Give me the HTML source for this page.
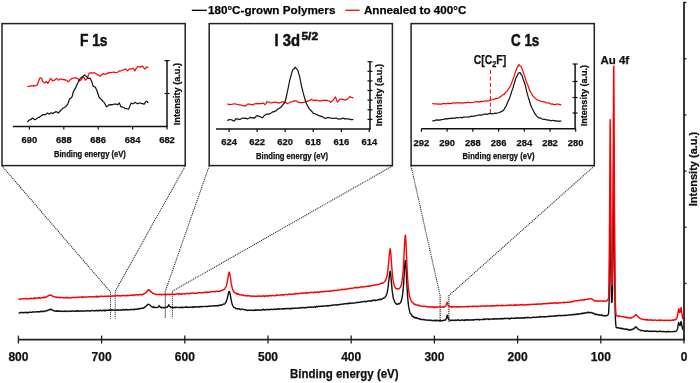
<!DOCTYPE html>
<html><head><meta charset="utf-8"><style>
html,body{margin:0;padding:0;background:#fff;width:700px;height:383px;overflow:hidden;font-family:"Liberation Sans",sans-serif;}
svg{display:block;will-change:transform;}
</style></head><body>
<svg width="700" height="383" viewBox="0 0 700 383"><rect width="700" height="383" fill="#fff"/><line x1="191.8" y1="10.3" x2="206.8" y2="10.3" stroke="#000" stroke-width="1.3"/><text x="207.9" y="14.2" font-family="Liberation Sans" font-weight="bold" stroke="#111" stroke-width="0.25" font-size="11.6" textLength="127.5" lengthAdjust="spacingAndGlyphs" fill="#000">180°C-grown Polymers</text><line x1="345.3" y1="10.3" x2="359.6" y2="10.3" stroke="#f00" stroke-width="1.3"/><text x="363.9" y="14.2" font-family="Liberation Sans" font-weight="bold" stroke="#111" stroke-width="0.25" font-size="11.6" textLength="102.4" lengthAdjust="spacingAndGlyphs" fill="#000">Annealed to 400°C</text><rect x="2.0" y="23.6" width="183.2" height="142.0" fill="none" stroke="#222" stroke-width="1.5"/><rect x="209.2" y="23.6" width="183.2" height="142.0" fill="none" stroke="#222" stroke-width="1.5"/><rect x="411.1" y="23.6" width="183.2" height="142.0" fill="none" stroke="#222" stroke-width="1.5"/><polyline points="2,166 110.5,292 110.5,318.6" stroke="#222" stroke-width="1.05" stroke-dasharray="1.1,0.9" fill="none"/><polyline points="185.2,166 115.2,291.3 115.2,318.6" stroke="#222" stroke-width="1.05" stroke-dasharray="1.1,0.9" fill="none"/><polyline points="209.2,166 165.3,291.2 165.3,318.6" stroke="#222" stroke-width="1.05" stroke-dasharray="1.1,0.9" fill="none"/><polyline points="392.3,166 172.4,291.2 172.4,318.6" stroke="#222" stroke-width="1.05" stroke-dasharray="1.1,0.9" fill="none"/><polyline points="411.1,166 440.1,295.6 440.1,322.2" stroke="#222" stroke-width="1.05" stroke-dasharray="1.1,0.9" fill="none"/><polyline points="594.3,166 448.9,295.6 448.9,322.2" stroke="#222" stroke-width="1.05" stroke-dasharray="1.1,0.9" fill="none"/><polyline points="18.6,313.1 19.1,313.1 19.6,312.8 20.1,312.6 20.6,312.5 21.1,312.7 21.6,312.5 22.1,312.4 22.6,312.7 23.1,312.6 23.6,312.7 24.1,312.4 24.6,312.5 25.1,312.5 25.6,312.2 26.1,312.6 26.6,312.5 27.1,312.9 27.6,312.4 28.1,312.3 28.6,312.5 29.1,312.3 29.6,312.4 30.1,312.1 30.6,312.2 31.1,312.4 31.6,312.3 32.1,312.1 32.6,311.8 33.1,312.1 33.6,312.0 34.1,312.1 34.6,312.0 35.1,312.1 35.6,311.9 36.1,311.9 36.6,311.9 37.1,311.6 37.6,311.7 38.1,311.6 38.6,312.1 39.1,311.6 39.6,311.7 40.1,311.7 40.6,311.5 41.1,311.2 41.6,311.7 42.1,311.4 42.6,311.6 43.1,311.1 43.6,311.3 44.1,311.5 44.6,311.5 45.1,310.9 45.6,310.8 46.1,310.9 46.6,311.0 47.1,310.7 47.6,310.5 48.1,310.0 48.6,310.1 49.1,310.0 49.6,309.5 50.1,309.2 50.3,309.3 50.6,309.7 51.1,309.3 51.6,309.8 52.1,309.8 52.6,310.2 53.1,310.4 53.6,310.6 54.1,311.0 54.6,310.9 55.1,311.2 55.6,311.0 56.1,311.0 56.6,311.2 57.1,310.6 57.6,311.2 58.1,311.3 58.6,311.0 59.1,311.3 59.6,311.2 60.1,310.8 60.6,311.2 61.1,311.1 61.6,311.2 62.1,311.3 62.6,311.5 63.1,311.3 63.6,311.3 64.1,311.4 64.6,310.9 65.1,311.5 65.6,311.1 66.1,311.4 66.6,311.1 67.1,311.1 67.6,311.2 68.1,311.6 68.6,311.4 69.1,311.1 69.6,311.2 70.1,311.0 70.6,311.2 71.1,311.1 71.6,311.4 72.1,310.9 72.6,311.1 73.1,311.0 73.6,311.0 74.1,311.3 74.6,311.2 75.1,311.2 75.6,311.3 76.1,311.3 76.6,310.8 77.1,311.2 77.6,310.7 78.1,311.0 78.6,311.4 79.1,311.0 79.6,310.9 80.1,311.0 80.6,311.0 81.1,311.0 81.6,310.8 82.1,311.2 82.6,311.1 83.1,310.9 83.6,311.0 84.1,311.0 84.6,311.1 85.1,310.9 85.6,311.0 86.1,310.8 86.6,310.6 87.1,310.7 87.6,311.0 88.1,311.0 88.6,310.8 89.1,310.6 89.6,310.8 90.1,311.1 90.6,311.0 91.1,310.6 91.6,310.7 92.1,310.4 92.6,310.4 93.1,310.7 93.6,310.6 94.1,310.8 94.6,310.9 95.1,310.8 95.6,310.8 96.1,310.5 96.6,310.3 97.1,310.6 97.6,311.1 98.1,310.6 98.6,310.3 99.1,310.5 99.6,310.7 100.1,310.2 100.6,310.6 101.1,310.3 101.6,310.7 102.1,310.6 102.6,310.4 103.1,310.8 103.6,310.3 104.1,310.2 104.6,310.7 105.1,310.1 105.6,310.7 106.1,310.3 106.6,310.1 107.1,310.3 107.6,310.3 108.1,310.3 108.6,310.2 109.1,310.4 109.6,309.7 110.1,310.1 110.6,310.1 111.1,310.5 111.6,309.7 112.1,310.1 112.6,309.9 113.1,310.0 113.6,310.2 114.1,310.2 114.6,310.4 115.1,309.9 115.6,310.1 116.1,310.3 116.6,310.2 117.1,310.0 117.6,310.2 118.1,309.8 118.6,310.3 119.1,310.0 119.6,309.9 120.1,310.0 120.6,310.1 121.1,310.3 121.6,309.9 122.1,309.8 122.6,310.0 123.1,309.7 123.6,309.5 124.1,310.0 124.6,309.8 125.1,310.1 125.6,309.6 126.1,309.2 126.6,309.9 127.1,309.8 127.6,310.1 128.1,309.9 128.6,309.8 129.1,309.9 129.6,309.7 130.1,309.7 130.6,309.4 131.1,309.7 131.6,309.4 132.1,309.4 132.6,309.6 133.1,309.6 133.6,309.2 134.1,309.7 134.6,309.2 135.1,309.4 135.6,309.4 136.1,309.2 136.6,309.1 137.1,309.4 137.6,309.2 138.1,309.0 138.6,308.5 139.1,308.6 139.6,309.0 140.1,308.7 140.6,308.4 141.1,308.4 141.6,308.3 142.1,308.4 142.6,308.2 143.1,308.2 143.6,307.6 144.1,307.8 144.6,307.2 145.1,306.9 145.6,306.9 146.1,306.0 146.6,305.4 147.1,304.9 147.6,304.4 148.1,304.5 148.3,304.4 148.6,304.3 149.1,304.4 149.6,305.0 150.1,305.3 150.6,305.8 151.1,306.2 151.6,306.5 152.1,307.0 152.6,307.3 153.1,307.3 153.6,306.8 154.1,307.6 154.6,307.4 155.1,307.2 155.6,307.3 156.1,307.6 156.6,307.6 157.1,307.5 157.6,307.3 158.1,307.0 158.6,306.5 159.1,305.6 159.6,306.2 160.1,306.9 160.6,307.3 161.1,307.5 161.6,307.9 162.1,307.2 162.6,307.6 163.1,307.5 163.6,307.5 164.1,307.8 164.6,307.7 165.1,307.4 165.6,307.3 166.1,307.1 166.6,307.3 167.1,307.4 167.6,306.8 168.1,306.2 168.6,305.0 168.8,304.7 169.1,305.3 169.6,306.2 170.1,306.7 170.6,306.9 171.1,307.5 171.6,307.3 172.1,307.3 172.6,307.6 173.1,307.3 173.6,307.8 174.1,307.6 174.6,307.3 175.1,307.3 175.6,307.6 176.1,307.2 176.6,307.3 177.1,307.4 177.6,307.4 178.1,307.4 178.6,307.5 179.1,307.3 179.6,307.4 180.1,307.6 180.6,307.5 181.1,307.3 181.6,307.7 182.1,307.0 182.6,307.4 183.1,307.5 183.6,307.5 184.1,307.3 184.6,307.2 185.1,307.4 185.6,307.3 186.1,307.4 186.6,306.7 187.1,307.4 187.6,307.1 188.1,307.5 188.6,307.4 189.1,307.4 189.6,307.2 190.1,307.3 190.6,307.1 191.1,307.2 191.6,307.1 192.1,307.0 192.6,307.5 193.1,307.2 193.6,306.7 194.1,307.2 194.6,306.7 195.1,307.0 195.6,306.9 196.1,306.8 196.6,307.0 197.1,306.8 197.6,306.6 198.1,306.9 198.6,306.9 199.1,307.2 199.6,306.7 200.1,306.5 200.6,306.7 201.1,306.8 201.6,306.5 202.1,306.5 202.6,306.7 203.1,306.6 203.6,306.6 204.1,306.4 204.6,306.4 205.1,306.4 205.6,306.5 206.1,306.4 206.6,306.5 207.1,306.5 207.6,306.5 208.1,306.4 208.6,306.1 209.1,306.1 209.6,306.4 210.1,306.2 210.6,306.2 211.1,305.9 211.6,306.1 212.1,306.0 212.6,305.9 213.1,305.9 213.6,305.7 214.1,306.0 214.6,306.1 215.1,305.7 215.6,305.8 216.1,305.5 216.6,305.8 217.1,306.0 217.6,305.4 218.1,305.5 218.6,305.8 219.1,305.5 219.6,305.4 220.1,304.8 220.6,305.1 221.1,305.2 221.6,305.2 222.1,304.9 222.6,304.6 223.1,304.4 223.6,304.0 224.1,303.9 224.6,304.0 225.1,303.3 225.6,302.5 226.1,302.1 226.6,300.3 227.1,299.3 227.6,297.0 228.1,294.7 228.6,292.6 229.1,291.3 229.3,291.5 229.6,291.8 230.1,293.9 230.6,296.7 231.1,299.3 231.6,301.8 232.1,303.9 232.6,305.2 233.1,306.3 233.6,307.3 234.1,307.4 234.6,307.8 235.1,307.8 235.6,308.2 236.1,308.9 236.6,308.7 237.1,308.7 237.6,309.0 238.1,308.6 238.6,308.9 239.1,308.9 239.6,308.8 240.1,309.5 240.6,309.6 241.1,309.3 241.6,309.4 242.1,309.0 242.6,309.1 243.0,309.2 243.1,309.3 243.6,309.6 244.1,309.6 244.6,309.7 245.1,309.7 245.6,309.8 246.1,310.1 246.6,310.2 247.1,310.1 247.6,310.5 248.1,310.3 248.6,310.2 249.1,310.2 249.6,310.3 250.1,310.2 250.6,310.1 251.1,310.4 251.6,310.2 252.1,310.2 252.6,310.5 253.1,310.2 253.6,310.5 254.1,310.2 254.6,310.5 255.1,310.3 255.6,309.8 256.1,310.4 256.6,310.1 257.1,309.7 257.6,310.1 258.1,310.1 258.6,309.8 259.1,309.9 259.6,310.1 260.1,310.3 260.6,310.2 261.1,310.2 261.6,310.1 262.1,309.4 262.6,309.7 263.1,309.9 263.6,309.3 264.1,310.0 264.6,310.0 265.1,309.6 265.6,309.7 266.1,309.5 266.6,309.7 267.1,309.7 267.6,309.7 268.1,309.4 268.6,309.7 269.1,309.5 269.6,309.8 270.1,309.6 270.6,309.2 271.1,309.2 271.6,309.5 272.1,309.4 272.6,309.5 273.1,309.6 273.6,309.4 274.1,309.0 274.6,309.1 275.1,309.4 275.6,309.1 276.1,309.5 276.6,309.2 277.1,309.3 277.6,309.0 278.1,309.1 278.6,308.5 279.1,309.1 279.6,309.2 280.1,308.9 280.6,308.9 281.1,309.0 281.6,309.0 282.1,308.8 282.6,309.1 283.1,308.6 283.6,309.1 284.1,308.6 284.6,308.7 285.1,309.1 285.6,308.6 286.1,308.4 286.6,308.8 287.1,308.5 287.6,308.5 288.1,308.5 288.6,308.5 289.1,308.4 289.6,308.4 290.1,308.9 290.6,308.4 291.1,308.7 291.6,308.2 292.1,308.6 292.6,308.2 293.1,308.3 293.6,308.5 294.1,308.3 294.6,308.0 295.1,308.2 295.6,308.3 296.1,308.4 296.6,308.1 297.1,308.2 297.6,308.2 298.1,307.9 298.6,308.1 299.1,308.0 299.6,308.2 300.1,308.0 300.6,308.0 301.1,307.5 301.6,307.9 302.1,307.8 302.6,307.6 303.1,307.7 303.6,307.5 304.1,307.7 304.6,307.8 305.1,307.7 305.6,307.5 306.1,307.9 306.6,307.7 307.1,307.3 307.6,307.4 308.1,307.1 308.6,307.3 309.1,307.4 309.6,307.5 310.1,307.1 310.6,306.8 311.1,307.1 311.6,307.4 312.1,307.1 312.6,307.3 313.1,307.1 313.6,307.2 314.1,307.0 314.6,306.7 315.1,306.9 315.6,307.3 316.1,306.6 316.6,306.3 317.1,307.0 317.6,306.7 318.1,306.4 318.6,306.4 319.1,306.1 319.6,306.6 320.1,306.4 320.6,306.2 321.1,306.2 321.6,306.2 322.1,306.4 322.6,306.1 323.1,306.4 323.6,305.9 324.1,305.9 324.6,305.9 325.1,305.8 325.6,305.9 326.1,306.1 326.6,306.1 327.1,305.6 327.6,306.0 328.1,305.7 328.6,306.0 329.1,305.6 329.6,305.4 330.1,305.7 330.6,305.6 331.1,305.3 331.6,305.4 332.1,305.3 332.6,305.3 333.1,304.9 333.6,304.9 334.1,305.1 334.6,305.1 335.1,304.9 335.6,304.6 336.1,305.1 336.6,304.8 337.1,304.6 337.6,305.0 338.1,304.9 338.6,304.8 339.1,304.7 339.6,304.6 340.1,304.2 340.6,304.4 341.1,304.4 341.6,304.4 342.1,304.3 342.6,304.0 343.1,304.0 343.6,304.0 344.1,304.0 344.6,303.8 345.1,303.5 345.6,303.6 346.1,303.8 346.6,303.7 347.1,303.8 347.6,303.2 348.1,303.5 348.6,303.7 349.1,303.1 349.6,303.2 350.1,303.0 350.6,303.5 351.1,303.2 351.6,303.1 352.1,303.1 352.6,303.0 353.1,303.2 353.6,303.2 354.1,303.1 354.6,302.9 355.1,302.9 355.6,302.9 356.1,302.9 356.6,302.2 357.1,302.6 357.6,302.5 358.1,302.5 358.6,302.3 359.1,302.3 359.6,302.4 360.1,302.2 360.6,302.2 361.1,301.9 361.6,301.8 362.1,301.8 362.6,301.6 363.1,301.7 363.6,301.6 364.1,301.4 364.6,301.3 365.1,301.5 365.6,301.4 366.1,301.9 366.6,301.6 367.1,301.2 367.6,301.2 368.1,301.0 368.6,301.0 369.1,301.0 369.6,301.0 370.1,300.8 370.6,301.1 371.1,300.9 371.6,301.1 372.1,300.4 372.6,300.7 373.1,300.5 373.6,300.1 374.1,300.3 374.6,300.0 375.1,300.2 375.6,300.7 376.1,300.4 376.6,300.4 377.1,300.2 377.6,299.6 378.1,299.9 378.6,299.8 379.1,299.7 379.6,299.3 380.1,299.0 380.6,299.7 381.1,299.4 381.6,299.1 382.1,298.7 382.6,298.7 383.1,298.1 383.6,298.4 384.1,297.9 384.6,297.5 385.1,297.0 385.6,296.4 386.1,295.6 386.6,294.3 387.1,292.9 387.6,290.3 388.1,287.0 388.6,282.6 389.1,278.2 389.6,273.7 390.1,271.6 390.2,271.1 390.6,273.3 391.1,278.6 391.6,284.3 392.1,289.9 392.6,293.7 393.1,297.1 393.6,299.3 394.1,300.3 394.6,301.9 395.1,302.7 395.6,303.2 396.1,303.5 396.6,304.3 397.1,304.1 397.6,304.4 398.1,304.0 398.6,303.7 399.1,303.8 399.6,303.7 400.1,303.0 400.6,302.5 401.1,301.6 401.6,299.8 402.1,297.7 402.6,294.4 403.1,290.2 403.6,284.1 404.1,275.9 404.6,267.1 405.1,261.1 405.4,260.4 405.6,261.7 406.1,268.5 406.6,279.1 407.1,288.2 407.6,296.1 408.1,302.2 408.6,306.4 409.1,308.9 409.6,311.2 410.1,313.0 410.6,313.9 411.1,314.1 411.6,315.3 412.1,316.3 412.6,316.0 413.1,316.8 413.6,316.6 414.1,317.6 414.6,317.3 415.1,317.9 415.6,318.1 416.1,317.5 416.6,317.9 417.1,318.4 417.6,318.2 418.1,318.6 418.6,318.5 419.1,319.1 419.6,318.9 420.1,318.9 420.6,319.3 421.1,319.5 421.6,319.3 422.1,319.5 422.6,319.6 423.1,319.5 423.6,319.5 424.1,319.9 424.6,319.8 425.1,319.7 425.6,320.1 426.1,320.1 426.6,320.1 427.1,319.9 427.6,320.1 428.1,320.3 428.6,320.3 429.1,320.0 429.6,320.1 430.1,320.3 430.6,320.3 431.1,320.5 431.6,320.1 432.1,320.5 432.6,320.7 433.1,320.6 433.6,320.5 434.1,320.6 434.6,320.2 435.1,320.4 435.6,320.9 436.1,320.2 436.6,320.3 437.1,320.7 437.6,320.5 438.1,320.5 438.6,320.4 439.1,321.0 439.6,320.6 440.1,320.6 440.6,320.3 441.1,320.8 441.6,320.6 442.1,320.7 442.6,320.9 443.1,320.5 443.6,320.2 444.1,320.2 444.6,320.3 445.1,320.4 445.6,319.5 446.1,319.0 446.6,317.6 447.1,315.7 447.3,315.1 447.6,316.0 448.1,318.1 448.6,319.2 449.1,319.7 449.6,320.1 450.1,320.3 450.6,320.5 451.1,320.1 451.6,320.6 452.1,320.3 452.6,320.1 453.1,320.2 453.6,320.1 454.1,320.3 454.6,320.5 455.1,319.9 455.6,320.1 456.1,320.5 456.6,320.2 457.1,320.4 457.6,320.0 458.1,320.2 458.6,319.7 459.1,320.1 459.6,320.4 460.1,320.5 460.6,320.5 461.1,320.2 461.6,320.0 462.1,320.1 462.6,319.8 463.1,320.4 463.6,320.4 464.1,319.9 464.6,320.5 465.1,319.8 465.6,320.2 466.1,319.9 466.6,319.7 467.1,320.1 467.6,319.8 468.1,320.2 468.6,319.8 469.1,320.0 469.6,319.9 470.1,320.0 470.6,319.8 471.1,320.1 471.6,320.0 472.1,319.9 472.6,319.8 473.1,320.2 473.6,319.7 474.1,319.7 474.6,319.9 475.1,319.7 475.6,319.4 476.1,319.7 476.6,319.6 477.1,319.5 477.6,319.7 478.1,319.4 478.6,319.6 479.1,319.4 479.6,319.9 480.1,319.5 480.6,319.6 481.1,319.6 481.6,319.6 482.1,319.4 482.6,319.6 483.1,319.5 483.6,318.9 484.1,319.5 484.6,319.1 485.1,319.5 485.6,319.4 486.1,319.2 486.6,318.8 487.1,318.9 487.6,319.0 488.1,319.2 488.6,318.9 489.1,319.6 489.6,319.3 490.1,319.1 490.6,318.9 491.1,319.1 491.6,319.1 492.1,319.0 492.6,319.0 493.1,319.2 493.6,318.7 494.1,319.0 494.6,319.2 495.1,318.7 495.6,318.9 496.1,318.8 496.6,318.7 497.1,319.1 497.6,318.8 498.1,319.1 498.6,318.9 499.1,318.8 499.6,318.8 500.1,318.7 500.6,318.4 501.1,319.0 501.6,318.8 502.1,318.9 502.6,318.3 503.1,318.9 503.6,318.8 504.1,318.6 504.6,318.2 505.1,318.6 505.6,318.4 506.1,318.5 506.6,318.5 507.1,318.3 507.6,318.4 508.1,318.5 508.6,318.7 509.1,318.4 509.6,318.9 510.1,318.1 510.6,318.3 511.1,318.6 511.6,318.0 512.1,318.4 512.6,318.4 513.1,318.1 513.6,318.2 514.1,318.5 514.6,318.1 515.1,318.2 515.6,318.2 516.1,318.4 516.6,317.7 517.1,317.8 517.6,317.8 518.1,318.0 518.6,318.2 519.1,318.2 519.6,317.9 520.1,318.3 520.6,317.9 521.1,318.1 521.6,317.8 522.1,318.1 522.6,317.7 523.1,318.1 523.6,318.0 524.1,318.2 524.6,317.7 525.1,317.5 525.6,317.9 526.1,317.8 526.6,317.6 527.1,317.4 527.6,317.8 528.1,317.3 528.6,317.5 529.1,317.8 529.6,317.5 530.1,317.7 530.6,317.6 531.1,317.6 531.6,317.7 532.1,317.6 532.6,317.3 533.1,317.1 533.6,317.3 534.1,317.2 534.6,317.4 535.1,317.5 535.6,317.4 536.1,317.1 536.6,317.2 537.1,317.1 537.6,317.0 538.1,317.3 538.6,317.2 539.1,317.1 539.6,316.7 540.1,316.4 540.6,316.8 541.1,317.1 541.6,316.8 542.1,316.8 542.6,316.7 543.1,316.9 543.6,316.7 544.1,317.0 544.6,316.6 545.1,316.6 545.6,316.9 546.1,316.7 546.6,316.7 547.1,316.6 547.6,316.5 548.1,316.5 548.6,316.5 549.1,316.4 549.6,316.0 550.1,316.6 550.6,316.2 551.1,316.2 551.6,316.2 552.1,316.1 552.6,316.0 553.1,316.1 553.6,316.3 554.1,316.0 554.6,316.1 555.1,315.7 555.6,316.1 556.1,315.7 556.6,316.1 557.1,315.7 557.6,315.7 558.1,315.6 558.6,315.5 559.1,315.7 559.6,315.5 560.1,315.7 560.6,315.9 561.1,315.5 561.6,315.5 562.1,315.6 562.6,315.4 563.1,315.5 563.6,315.5 564.1,315.7 564.6,315.3 565.1,315.3 565.6,315.3 566.1,315.6 566.6,315.1 567.1,315.3 567.6,315.4 568.1,315.3 568.6,315.0 569.1,314.9 569.6,314.7 570.1,315.0 570.6,314.9 571.1,314.6 571.6,315.0 572.1,314.8 572.6,314.7 573.1,314.5 573.6,314.7 574.1,314.5 574.6,314.5 575.1,314.3 575.6,314.5 576.1,313.9 576.6,313.9 577.1,314.5 577.6,314.2 578.1,314.3 578.6,313.7 579.1,314.0 579.6,313.9 580.1,313.9 580.6,313.6 581.1,313.8 581.6,313.5 582.1,313.1 582.6,313.8 583.1,313.3 583.6,313.4 584.1,313.0 584.6,312.9 585.1,313.2 585.6,313.1 586.1,312.7 586.6,312.8 587.1,312.4 587.6,312.2 588.1,312.8 588.6,312.3 589.1,312.6 589.6,312.7 590.1,312.5 590.6,312.7 591.1,312.5 591.6,312.7 592.1,312.8 592.6,313.1 593.1,313.3 593.6,313.2 594.1,313.6 594.6,313.7 595.1,314.6 595.6,314.4 596.1,314.2 596.6,314.6 597.1,314.2 597.6,314.6 598.1,315.0 598.6,314.8 599.1,315.1 599.6,314.8 600.1,315.1 600.6,315.1 601.1,314.7 601.6,315.0 602.1,315.6 602.6,315.2 603.1,315.6 603.6,315.8 604.1,315.5 604.6,315.8 605.1,315.7 605.6,315.6 606.1,315.8 606.6,315.7 607.1,315.3 607.6,315.3 608.1,314.8 608.6,313.4 609.1,302.8 609.6,257.7 610.1,202.2 610.2,200.1 610.6,228.8 611.1,283.8 611.6,302.5 612.1,302.0 612.6,288.1 613.1,233.9 613.6,165.2 613.8,159.7 614.1,189.7 614.6,267.8 615.1,310.5 615.6,322.6 616.1,327.3 616.6,327.8 617.1,327.7 617.6,327.9 618.1,327.8 618.6,327.8 619.1,328.2 619.6,328.3 620.1,328.0 620.6,328.4 621.1,328.6 621.6,328.2 622.1,328.4 622.6,328.9 623.1,328.5 623.6,328.9 624.1,329.0 624.6,328.9 625.1,329.0 625.6,329.2 626.1,329.2 626.6,329.3 627.1,329.0 627.6,329.5 628.1,329.4 628.6,329.9 629.1,330.2 629.6,330.0 630.1,329.4 630.6,330.0 631.1,329.8 631.6,329.5 632.1,329.3 632.6,329.6 633.1,329.0 633.6,328.8 634.1,328.4 634.6,328.1 635.1,326.9 635.6,327.4 635.9,326.9 636.1,327.1 636.6,327.6 637.1,328.0 637.6,328.1 638.1,329.1 638.6,329.4 639.1,329.6 639.6,329.9 640.1,329.9 640.6,330.5 641.1,330.8 641.6,330.5 642.1,330.6 642.6,330.4 643.1,330.6 643.6,330.6 644.1,330.9 644.6,331.3 645.1,331.1 645.6,331.2 646.1,330.8 646.6,331.2 647.1,330.9 647.6,330.9 648.1,331.2 648.6,331.1 649.1,331.6 649.6,331.2 650.1,331.1 650.6,331.3 651.1,331.0 651.6,331.4 652.1,331.6 652.6,331.2 653.1,331.2 653.6,331.5 654.1,331.1 654.6,331.4 655.1,331.2 655.6,331.4 656.1,331.2 656.6,331.5 657.1,331.5 657.6,331.8 658.1,331.4 658.6,331.5 659.1,331.1 659.6,331.3 660.1,331.5 660.6,331.2 661.1,331.5 661.6,331.4 662.1,331.6 662.6,331.7 663.1,331.5 663.6,331.7 664.1,331.5 664.6,331.6 665.1,331.7 665.6,331.7 666.1,331.8 666.6,332.0 667.1,331.5 667.6,331.6 668.1,331.3 668.6,331.9 669.1,331.5 669.6,331.6 670.1,331.6 670.6,331.8 671.1,331.6 671.6,331.6 672.1,331.7 672.6,331.6 673.1,331.6 673.6,331.4 674.1,331.5 674.6,331.3 675.1,331.6 675.6,331.4 676.1,331.2 676.6,330.7 677.1,329.7 677.6,328.4 678.1,325.3 678.6,322.5 678.7,322.6 679.1,323.9 679.6,325.4 680.1,325.5 680.6,322.9 681.1,321.5 681.6,323.9 682.1,326.8 682.6,328.5 683.1,330.0" fill="none" stroke="#111" stroke-width="1.4" stroke-linejoin="round"/><polyline points="18.6,299.6 19.1,299.0 19.6,299.2 20.1,299.1 20.6,299.2 21.1,298.8 21.6,298.9 22.1,298.9 22.6,298.8 23.1,298.8 23.6,298.8 24.1,298.8 24.6,298.7 25.1,298.9 25.6,298.7 26.1,298.2 26.6,299.0 27.1,298.7 27.6,298.6 28.1,298.8 28.6,298.7 29.1,298.7 29.6,298.5 30.1,298.6 30.6,298.3 31.1,298.8 31.6,298.3 32.1,298.5 32.6,298.5 33.1,298.5 33.6,298.4 34.1,298.5 34.6,297.6 35.1,298.3 35.6,298.2 36.1,298.2 36.6,298.5 37.1,298.0 37.6,298.1 38.1,297.7 38.6,298.1 39.1,297.7 39.6,297.7 40.1,298.4 40.6,298.1 41.1,297.9 41.6,297.9 42.1,297.5 42.6,297.6 43.1,297.8 43.6,297.2 44.1,297.7 44.6,297.2 45.1,297.4 45.6,297.0 46.1,297.5 46.6,297.1 47.1,296.6 47.6,296.0 48.1,296.0 48.6,295.8 49.1,295.3 49.6,295.3 50.1,295.3 50.3,295.1 50.6,295.0 51.1,295.4 51.6,295.4 52.1,296.0 52.6,296.0 53.1,296.7 53.6,296.5 54.1,296.6 54.6,297.0 55.1,297.0 55.6,297.0 56.1,297.3 56.6,297.5 57.1,297.0 57.6,297.4 58.1,297.5 58.6,297.5 59.1,297.7 59.6,297.3 60.1,297.7 60.6,297.5 61.1,297.6 61.6,297.5 62.1,297.5 62.6,297.5 63.1,297.7 63.6,298.0 64.1,297.8 64.6,297.7 65.1,297.7 65.6,297.5 66.1,297.7 66.6,298.0 67.1,297.3 67.6,297.7 68.1,297.7 68.6,297.6 69.1,297.7 69.6,297.8 70.1,298.0 70.6,297.8 71.1,297.8 71.6,297.5 72.1,297.6 72.6,297.5 73.1,297.5 73.6,297.3 74.1,297.5 74.6,297.7 75.1,297.3 75.6,297.4 76.1,297.5 76.6,297.3 77.1,297.5 77.6,297.3 78.1,297.0 78.6,297.0 79.1,297.4 79.6,297.3 80.1,297.4 80.6,297.2 81.1,297.2 81.6,296.8 82.1,297.4 82.6,296.9 83.1,297.3 83.6,296.9 84.1,296.9 84.6,297.1 85.1,296.9 85.6,296.9 86.1,297.2 86.6,297.1 87.1,297.0 87.6,296.9 88.1,296.8 88.6,296.8 89.1,296.8 89.6,296.9 90.1,297.0 90.6,296.8 91.1,296.7 91.6,296.7 92.1,297.0 92.6,296.8 93.1,296.8 93.6,296.8 94.1,296.8 94.6,296.7 95.1,296.9 95.6,296.8 96.1,296.1 96.6,296.6 97.1,297.2 97.6,296.3 98.1,296.6 98.6,296.8 99.1,296.5 99.6,296.8 100.1,296.3 100.6,296.2 101.1,296.4 101.6,296.3 102.1,296.2 102.6,296.5 103.1,296.5 103.6,296.4 104.1,296.3 104.6,296.4 105.1,296.3 105.6,296.2 106.1,296.4 106.6,296.4 107.1,296.3 107.6,296.4 108.1,296.0 108.6,296.2 109.1,296.1 109.6,296.4 110.1,296.3 110.6,296.6 111.1,296.4 111.6,296.0 112.1,295.9 112.6,296.2 113.1,296.0 113.6,296.0 114.1,295.8 114.6,296.1 115.1,296.0 115.6,296.0 116.1,296.0 116.6,295.7 117.1,295.4 117.6,295.8 118.1,295.7 118.6,295.7 119.1,296.0 119.6,295.7 120.1,296.0 120.6,295.8 121.1,295.8 121.6,295.8 122.1,295.8 122.6,295.4 123.1,295.8 123.6,295.6 124.1,295.4 124.6,295.7 125.1,295.6 125.6,295.8 126.1,295.6 126.6,295.5 127.1,295.1 127.6,295.7 128.1,295.7 128.6,295.5 129.1,295.4 129.6,295.6 130.1,295.1 130.6,295.4 131.1,295.3 131.6,295.0 132.1,295.3 132.6,295.3 133.1,295.5 133.6,295.4 134.1,294.8 134.6,294.7 135.1,295.1 135.6,295.0 136.1,294.9 136.6,294.7 137.1,295.0 137.6,294.7 138.1,294.8 138.6,295.1 139.1,294.9 139.6,294.7 140.1,294.5 140.6,294.7 141.1,295.0 141.6,294.5 142.1,294.8 142.6,294.2 143.1,294.2 143.6,294.2 144.1,293.7 144.6,293.6 145.1,293.0 145.6,293.0 146.1,292.6 146.6,291.7 147.1,291.2 147.6,290.5 148.1,289.7 148.6,290.4 148.8,289.9 149.1,290.0 149.6,290.2 150.1,290.7 150.6,291.7 151.1,291.5 151.6,292.3 152.1,292.7 152.6,293.1 153.1,293.6 153.6,293.5 154.1,293.6 154.6,293.8 155.1,294.2 155.6,294.4 156.1,294.4 156.6,294.7 157.1,294.3 157.6,294.6 158.1,294.6 158.6,294.4 159.1,294.3 159.6,294.7 160.1,294.4 160.6,294.5 161.1,294.3 161.6,294.9 162.1,294.5 162.6,294.4 163.1,294.5 163.6,294.5 164.1,294.6 164.6,294.2 165.1,294.3 165.6,294.6 166.1,294.8 166.6,294.3 167.1,294.6 167.6,294.4 168.1,294.1 168.6,294.5 169.1,294.3 169.6,294.7 170.1,294.4 170.6,294.5 171.1,294.1 171.6,294.4 172.1,294.0 172.6,294.4 173.1,294.6 173.6,294.1 174.1,294.4 174.6,294.5 175.1,294.2 175.6,294.4 176.1,294.2 176.6,294.0 177.1,293.7 177.6,293.9 178.1,293.8 178.6,294.5 179.1,294.1 179.6,293.9 180.1,293.7 180.6,294.3 181.1,293.7 181.6,294.2 182.1,294.1 182.6,293.8 183.1,293.6 183.6,293.7 184.1,293.5 184.6,293.8 185.1,294.0 185.6,293.8 186.1,293.8 186.6,293.4 187.1,293.6 187.6,293.3 188.1,293.4 188.6,293.6 189.1,293.9 189.6,293.4 190.1,293.4 190.6,293.0 191.1,293.3 191.6,293.1 192.1,293.0 192.6,292.9 193.1,293.2 193.6,293.1 194.1,293.3 194.6,293.1 195.1,293.1 195.6,293.3 196.1,293.2 196.6,293.1 197.1,293.2 197.6,293.0 198.1,292.7 198.6,292.7 199.1,292.5 199.6,292.9 200.1,292.7 200.6,292.8 201.1,292.9 201.6,292.5 202.1,292.7 202.6,292.9 203.1,292.6 203.6,292.7 204.1,292.5 204.6,292.3 205.1,292.4 205.6,292.0 206.1,292.5 206.6,292.2 207.1,292.6 207.6,292.0 208.1,292.3 208.6,292.3 209.1,292.1 209.6,292.2 210.1,291.9 210.6,291.8 211.1,291.7 211.6,291.8 212.1,291.8 212.6,291.9 213.1,291.8 213.6,291.7 214.1,291.6 214.6,291.3 215.1,291.6 215.6,291.7 216.1,291.3 216.6,291.4 217.1,291.5 217.6,291.2 218.1,291.3 218.6,291.1 219.1,291.6 219.6,291.3 220.1,291.1 220.6,290.6 221.1,290.8 221.6,290.4 222.1,290.4 222.6,290.0 223.1,290.0 223.6,289.5 224.1,289.4 224.6,289.3 225.1,288.1 225.6,287.3 226.1,286.5 226.6,285.0 227.1,282.6 227.6,280.2 228.1,277.0 228.6,274.1 229.1,272.5 229.3,272.1 229.6,273.0 230.1,275.5 230.6,278.9 231.1,282.7 231.6,285.2 232.1,287.4 232.6,289.6 233.1,290.4 233.6,291.8 234.1,292.3 234.6,292.5 235.1,292.8 235.6,292.9 236.1,293.5 236.6,293.4 237.1,294.3 237.6,293.8 238.1,294.3 238.6,293.9 239.1,294.5 239.6,294.9 240.1,294.6 240.6,294.7 241.1,294.8 241.6,295.1 242.1,295.3 242.6,295.1 243.1,294.8 243.6,295.4 244.1,295.6 244.6,295.9 245.1,295.5 245.6,295.6 246.1,295.5 246.6,295.8 247.1,296.1 247.6,295.6 248.1,295.8 248.6,295.7 249.1,295.8 249.6,295.9 250.1,296.1 250.6,295.9 251.1,296.0 251.6,296.3 252.1,296.2 252.6,296.2 253.1,296.2 253.6,296.0 254.1,296.2 254.6,296.2 255.1,296.1 255.6,296.3 256.1,296.1 256.6,296.3 257.1,296.1 257.6,296.3 258.1,296.0 258.6,296.0 259.1,295.9 259.6,296.4 260.1,296.3 260.6,296.2 261.1,296.3 261.6,296.0 262.1,296.2 262.6,296.1 263.1,295.8 263.6,296.2 264.1,296.0 264.6,296.4 265.1,295.9 265.6,295.9 266.1,296.2 266.6,296.0 267.1,295.7 267.6,296.0 268.1,295.7 268.6,296.2 269.1,295.6 269.6,295.6 270.1,295.2 270.6,295.6 271.1,296.0 271.6,295.6 272.1,295.4 272.6,295.6 273.1,295.4 273.6,295.5 274.1,295.9 274.6,295.8 275.1,295.7 275.6,295.7 276.1,295.1 276.6,294.8 277.1,295.4 277.6,295.2 278.1,295.1 278.6,295.1 279.1,295.2 279.6,295.1 280.1,295.0 280.6,295.0 281.1,294.9 281.6,294.8 282.1,295.1 282.6,294.7 283.1,295.2 283.6,294.8 284.1,294.7 284.6,294.9 285.1,294.5 285.6,294.5 286.1,294.4 286.6,294.5 287.1,294.6 287.6,294.8 288.1,294.5 288.6,294.1 289.1,294.1 289.6,293.9 290.1,294.4 290.6,294.4 291.1,294.2 291.6,294.2 292.1,294.2 292.6,294.1 293.1,294.1 293.6,294.0 294.1,293.7 294.6,294.1 295.1,294.1 295.6,293.5 296.1,293.7 296.6,293.5 297.1,293.8 297.6,293.6 298.1,293.9 298.6,293.8 299.1,293.4 299.6,293.4 300.1,293.3 300.6,293.5 301.1,293.2 301.6,293.4 302.1,293.0 302.6,293.5 303.1,293.3 303.6,292.9 304.1,293.0 304.6,293.1 305.1,293.1 305.6,292.4 306.1,293.0 306.6,293.3 307.1,292.8 307.6,292.6 308.1,293.1 308.6,292.8 309.1,292.8 309.6,292.8 310.1,292.4 310.6,292.5 311.1,292.4 311.6,292.3 312.1,292.5 312.6,292.3 313.1,292.8 313.6,292.5 314.1,292.5 314.6,292.0 315.1,292.2 315.6,292.2 316.1,292.2 316.6,292.3 317.1,292.0 317.6,291.9 318.1,292.2 318.6,292.5 319.1,292.4 319.6,291.9 320.1,291.7 320.6,291.9 321.1,291.9 321.6,292.1 322.1,291.7 322.6,291.6 323.1,291.9 323.6,291.5 324.1,291.4 324.6,291.7 325.1,291.5 325.6,291.3 326.1,291.4 326.6,291.3 327.1,291.3 327.6,291.2 328.1,291.4 328.6,291.2 329.1,291.1 329.6,291.4 330.1,290.9 330.6,291.2 331.1,291.1 331.6,290.9 332.1,290.9 332.6,290.5 333.1,290.8 333.6,290.5 334.1,290.4 334.6,290.6 335.1,290.3 335.6,290.4 336.1,290.4 336.6,290.5 337.1,290.3 337.6,290.4 338.1,289.9 338.6,289.9 339.1,290.1 339.6,290.1 340.1,289.9 340.6,289.6 341.1,289.5 341.6,289.4 342.1,289.8 342.6,289.3 343.1,289.4 343.6,289.5 344.1,289.4 344.6,289.1 345.1,289.6 345.6,289.1 346.1,289.1 346.6,289.1 347.1,288.8 347.6,289.0 348.1,288.7 348.6,288.5 349.1,288.5 349.6,288.7 350.1,288.5 350.6,288.4 351.1,288.3 351.6,288.3 352.1,288.4 352.6,288.4 353.1,288.1 353.6,288.1 354.1,287.6 354.6,287.7 355.1,287.7 355.6,287.6 356.1,287.8 356.6,287.2 357.1,287.7 357.6,287.6 358.1,287.9 358.6,287.3 359.1,287.4 359.6,287.5 360.1,287.4 360.6,286.9 361.1,287.0 361.6,286.7 362.1,286.9 362.6,287.0 363.1,287.1 363.6,286.8 364.1,286.9 364.6,286.8 365.1,286.4 365.6,286.6 366.1,286.6 366.6,286.3 367.1,286.1 367.6,286.3 368.1,286.2 368.6,286.2 369.1,285.7 369.6,285.9 370.1,286.3 370.6,286.1 371.1,285.7 371.6,285.6 372.1,285.5 372.6,285.3 373.1,285.3 373.6,285.3 374.1,285.0 374.6,285.1 375.1,285.1 375.6,284.7 376.1,284.8 376.6,284.5 377.1,284.8 377.6,284.7 378.1,284.4 378.6,284.5 379.1,284.4 379.6,284.3 380.1,283.8 380.6,283.8 381.1,283.4 381.6,283.1 382.1,283.5 382.6,283.2 383.1,283.0 383.6,282.6 384.1,282.0 384.6,281.7 385.1,280.9 385.6,280.5 386.1,278.7 386.6,277.8 387.1,275.5 387.6,272.7 388.1,268.8 388.6,263.1 389.1,257.5 389.6,251.8 390.1,248.7 390.2,249.5 390.6,251.1 391.1,257.2 391.6,264.9 392.1,271.0 392.6,276.4 393.1,280.2 393.6,282.8 394.1,285.2 394.6,286.6 395.1,287.3 395.6,288.3 396.1,288.5 396.6,288.8 397.1,288.9 397.6,288.8 398.1,289.0 398.6,288.7 399.1,288.7 399.6,288.3 400.1,287.5 400.6,287.0 401.1,285.6 401.6,284.1 402.1,280.9 402.6,277.0 403.1,271.3 403.6,263.7 404.1,253.9 404.6,243.4 405.1,236.3 405.4,235.2 405.6,236.1 406.1,245.0 406.6,257.1 407.1,268.8 407.6,278.2 408.1,285.3 408.6,290.4 409.1,294.0 409.6,296.3 410.1,298.0 410.6,299.5 411.1,300.6 411.6,301.4 412.1,301.9 412.6,302.7 413.1,302.8 413.6,303.8 414.1,304.0 414.6,304.3 415.1,304.2 415.6,304.7 416.1,305.1 416.6,305.0 417.1,304.9 417.6,305.3 418.1,305.0 418.6,305.7 419.1,305.7 419.6,305.4 420.1,306.0 420.6,306.1 421.1,306.1 421.6,306.2 422.1,306.4 422.6,306.2 423.1,306.5 423.6,306.3 424.1,306.2 424.6,306.4 425.1,306.3 425.6,306.6 426.1,306.4 426.6,306.7 427.1,306.7 427.6,307.0 428.1,307.1 428.6,306.7 429.1,306.8 429.6,306.9 430.1,306.8 430.6,307.3 431.1,307.2 431.6,307.0 432.1,306.8 432.6,306.9 433.1,307.1 433.6,307.4 434.1,306.9 434.6,307.4 435.1,306.9 435.6,307.3 436.1,307.0 436.6,307.1 437.1,306.8 437.6,307.4 438.1,307.3 438.6,307.1 439.1,306.9 439.6,307.3 440.1,307.3 440.6,307.0 441.1,307.4 441.6,307.2 442.1,307.0 442.6,307.0 443.1,306.6 443.6,307.2 444.1,307.2 444.6,306.8 445.1,306.4 445.6,306.0 446.1,305.3 446.6,303.8 447.1,302.6 447.2,302.3 447.6,303.4 448.1,305.1 448.6,305.8 449.1,306.2 449.6,306.1 450.1,306.8 450.6,306.9 451.1,306.7 451.6,307.2 452.1,306.8 452.6,306.7 453.1,307.1 453.6,307.0 454.1,306.5 454.6,306.8 455.1,306.7 455.6,306.9 456.1,307.0 456.6,306.8 457.1,306.9 457.6,307.1 458.1,306.8 458.6,306.6 459.1,306.7 459.6,307.0 460.1,307.2 460.6,306.8 461.1,306.9 461.6,306.6 462.1,306.6 462.6,306.9 463.1,306.6 463.6,306.8 464.1,306.7 464.6,306.9 465.1,306.7 465.6,306.6 466.1,306.6 466.6,306.5 467.1,306.8 467.6,307.0 468.1,306.3 468.6,306.8 469.1,306.4 469.6,306.4 470.1,306.5 470.6,306.4 471.1,306.4 471.6,306.4 472.1,306.8 472.6,306.2 473.1,306.3 473.6,306.3 474.1,306.4 474.6,306.1 475.1,306.4 475.6,306.4 476.1,306.7 476.6,306.4 477.1,306.3 477.6,306.3 478.1,306.6 478.6,306.2 479.1,306.1 479.6,306.1 480.1,306.1 480.6,306.4 481.1,306.0 481.6,306.0 482.1,306.1 482.6,305.9 483.1,306.2 483.6,306.0 484.1,306.2 484.6,306.2 485.1,306.3 485.6,306.4 486.1,305.8 486.6,305.7 487.1,305.8 487.6,306.1 488.1,306.1 488.6,305.9 489.1,305.9 489.6,306.2 490.1,306.1 490.6,305.9 491.1,306.0 491.6,305.5 492.1,306.1 492.6,306.2 493.1,305.8 493.6,305.7 494.1,306.0 494.6,305.6 495.1,305.7 495.6,305.8 496.1,305.7 496.6,305.8 497.1,305.3 497.6,305.2 498.1,305.8 498.6,305.7 499.1,305.6 499.6,305.5 500.1,305.6 500.6,305.6 501.1,305.3 501.6,305.6 502.1,305.3 502.6,305.9 503.1,305.5 503.6,305.5 504.1,305.6 504.6,305.6 505.1,305.6 505.6,305.3 506.1,305.4 506.6,305.5 507.1,305.4 507.6,305.3 508.1,305.2 508.6,305.3 509.1,305.5 509.6,305.0 510.1,305.0 510.6,305.0 511.1,304.9 511.6,305.4 512.1,305.5 512.6,305.3 513.1,305.2 513.6,305.4 514.1,305.3 514.6,304.6 515.1,305.1 515.6,305.5 516.1,305.0 516.6,304.9 517.1,304.9 517.6,305.3 518.1,304.9 518.6,305.0 519.1,305.2 519.6,305.0 520.1,304.9 520.6,304.7 521.1,304.6 521.6,305.1 522.1,304.6 522.6,305.0 523.1,305.1 523.6,305.1 524.1,304.7 524.6,304.6 525.1,304.8 525.6,305.0 526.1,304.8 526.6,304.8 527.1,304.6 527.6,304.8 528.1,304.3 528.6,304.4 529.1,304.9 529.6,304.7 530.1,304.7 530.6,304.2 531.1,304.3 531.6,304.4 532.1,304.4 532.6,304.6 533.1,304.3 533.6,304.4 534.1,304.2 534.6,304.2 535.1,304.3 535.6,304.3 536.1,304.4 536.6,303.9 537.1,304.3 537.6,304.2 538.1,303.9 538.6,304.3 539.1,303.9 539.6,303.9 540.1,304.1 540.6,304.2 541.1,303.8 541.6,304.1 542.1,303.9 542.6,303.6 543.1,303.9 543.6,303.7 544.1,303.6 544.6,303.6 545.1,303.9 545.6,303.7 546.1,303.5 546.6,303.7 547.1,303.2 547.6,303.6 548.1,303.7 548.6,303.2 549.1,303.2 549.6,303.2 550.1,303.3 550.6,303.1 551.1,303.3 551.6,303.0 552.1,303.3 552.6,303.3 553.1,303.2 553.6,303.0 554.1,303.2 554.6,302.7 555.1,302.9 555.6,303.0 556.1,303.2 556.6,302.8 557.1,303.0 557.6,303.2 558.1,303.2 558.6,303.1 559.1,302.6 559.6,302.8 560.1,302.8 560.6,302.8 561.1,302.7 561.6,302.6 562.1,302.6 562.6,302.3 563.1,302.7 563.6,302.5 564.1,302.3 564.6,302.8 565.1,302.4 565.6,302.2 566.1,302.4 566.6,302.4 567.1,302.4 567.6,302.2 568.1,302.3 568.6,302.2 569.1,302.4 569.6,302.2 570.1,301.9 570.6,301.8 571.1,302.0 571.6,302.0 572.1,301.4 572.6,301.7 573.1,301.5 573.6,301.5 574.1,301.1 574.6,301.0 575.1,301.0 575.6,300.9 576.1,300.8 576.6,300.9 577.1,300.8 577.6,301.0 578.1,300.4 578.6,300.4 579.1,300.4 579.6,300.5 580.1,300.1 580.6,299.9 581.1,300.2 581.6,300.1 582.1,300.1 582.6,300.1 583.1,299.6 583.6,300.0 584.1,299.7 584.6,300.1 585.1,299.5 585.6,299.1 586.1,299.4 586.6,299.4 587.1,299.4 587.6,299.3 588.1,299.0 588.6,298.8 589.1,299.0 589.6,298.9 590.1,298.7 590.6,298.8 591.1,298.7 591.6,298.7 592.1,299.2 592.6,299.5 593.1,299.8 593.6,300.5 594.1,300.4 594.6,300.8 595.1,300.5 595.6,301.2 596.1,300.9 596.6,301.1 597.1,300.8 597.6,301.0 598.1,301.2 598.6,301.0 599.1,301.1 599.6,300.9 600.1,300.9 600.6,301.1 601.1,301.0 601.6,301.1 602.1,301.0 602.6,301.0 603.1,301.2 603.6,301.4 604.1,301.0 604.6,300.9 605.1,301.1 605.6,301.2 606.1,301.0 606.6,301.0 607.1,300.5 607.6,300.1 608.1,299.4 608.6,297.8 609.1,281.2 609.6,210.4 610.1,123.7 610.2,119.6 610.6,165.9 611.1,254.7 611.6,285.0 612.1,284.9 612.6,263.8 613.1,179.2 613.6,74.8 613.8,66.1 614.1,110.6 614.6,228.4 615.1,291.5 615.6,309.0 616.1,315.1 616.6,315.8 617.1,315.8 617.6,316.0 618.1,315.9 618.6,316.6 619.1,316.1 619.6,316.2 620.1,316.2 620.6,316.5 621.1,316.5 621.6,316.6 622.1,316.9 622.6,316.9 623.1,316.5 623.6,316.9 624.1,316.9 624.6,317.1 625.1,317.0 625.6,317.3 626.1,317.2 626.6,317.7 627.1,317.2 627.6,317.8 628.1,317.9 628.6,317.7 629.1,317.6 629.6,317.9 630.1,318.2 630.6,318.4 631.1,317.7 631.6,317.8 632.1,317.4 632.6,317.5 633.1,317.1 633.6,316.6 634.1,316.3 634.6,315.6 635.1,315.4 635.6,314.7 635.9,314.6 636.1,314.8 636.6,315.1 637.1,315.9 637.6,316.2 638.1,316.8 638.6,317.3 639.1,317.7 639.6,317.8 640.1,318.5 640.6,318.8 641.1,318.9 641.6,318.9 642.1,319.3 642.6,319.4 643.1,319.4 643.6,319.6 644.1,319.5 644.6,319.7 645.1,319.8 645.6,319.5 646.1,319.8 646.6,319.8 647.1,320.1 647.6,319.5 648.1,320.1 648.6,320.1 649.1,320.0 649.6,320.2 650.1,319.8 650.6,320.1 651.1,320.0 651.6,320.0 652.1,320.4 652.6,320.1 653.1,320.4 653.6,320.2 654.1,320.1 654.6,320.1 655.1,319.9 655.6,320.1 656.1,320.2 656.6,320.5 657.1,320.4 657.6,320.4 658.1,320.0 658.6,320.1 659.1,320.3 659.6,320.3 660.1,320.0 660.6,320.5 661.1,320.1 661.6,320.3 662.1,320.2 662.6,320.4 663.1,320.4 663.6,320.5 664.1,320.1 664.6,320.3 665.1,320.7 665.6,320.3 666.1,320.4 666.6,320.3 667.1,320.2 667.6,320.6 668.1,320.6 668.6,320.1 669.1,320.4 669.6,320.6 670.1,320.3 670.6,320.3 671.1,320.4 671.6,320.4 672.1,319.9 672.6,320.0 673.1,320.4 673.6,319.9 674.1,319.9 674.6,319.7 675.1,320.1 675.6,319.3 676.1,319.2 676.6,318.6 677.1,317.6 677.6,315.5 678.1,312.2 678.6,308.9 678.7,308.8 679.1,309.6 679.6,312.5 680.1,312.3 680.6,309.7 681.1,307.4 681.6,310.8 682.1,315.1 682.6,317.9 683.1,319.2" fill="none" stroke="#f00" stroke-width="1.4" stroke-linejoin="round"/><line x1="18.4" y1="339.7" x2="684.8" y2="339.7" stroke="#222" stroke-width="1.8"/><line x1="684" y1="1.8" x2="684" y2="340.5" stroke="#222" stroke-width="1.8"/><line x1="684.0" y1="335.6" x2="684.0" y2="343.6" stroke="#222" stroke-width="1.3"/><text x="684.0" y="361.4" font-family="Liberation Sans" font-weight="bold" stroke="#111" stroke-width="0.25" font-size="12" text-anchor="middle" fill="#111">0</text><line x1="600.8" y1="335.6" x2="600.8" y2="343.6" stroke="#222" stroke-width="1.3"/><text x="600.8" y="361.4" font-family="Liberation Sans" font-weight="bold" stroke="#111" stroke-width="0.25" font-size="12" text-anchor="middle" fill="#111">100</text><line x1="517.6" y1="335.6" x2="517.6" y2="343.6" stroke="#222" stroke-width="1.3"/><text x="517.6" y="361.4" font-family="Liberation Sans" font-weight="bold" stroke="#111" stroke-width="0.25" font-size="12" text-anchor="middle" fill="#111">200</text><line x1="434.4" y1="335.6" x2="434.4" y2="343.6" stroke="#222" stroke-width="1.3"/><text x="434.4" y="361.4" font-family="Liberation Sans" font-weight="bold" stroke="#111" stroke-width="0.25" font-size="12" text-anchor="middle" fill="#111">300</text><line x1="351.2" y1="335.6" x2="351.2" y2="343.6" stroke="#222" stroke-width="1.3"/><text x="351.2" y="361.4" font-family="Liberation Sans" font-weight="bold" stroke="#111" stroke-width="0.25" font-size="12" text-anchor="middle" fill="#111">400</text><line x1="268.0" y1="335.6" x2="268.0" y2="343.6" stroke="#222" stroke-width="1.3"/><text x="268.0" y="361.4" font-family="Liberation Sans" font-weight="bold" stroke="#111" stroke-width="0.25" font-size="12" text-anchor="middle" fill="#111">500</text><line x1="184.8" y1="335.6" x2="184.8" y2="343.6" stroke="#222" stroke-width="1.3"/><text x="184.8" y="361.4" font-family="Liberation Sans" font-weight="bold" stroke="#111" stroke-width="0.25" font-size="12" text-anchor="middle" fill="#111">600</text><line x1="101.6" y1="335.6" x2="101.6" y2="343.6" stroke="#222" stroke-width="1.3"/><text x="101.6" y="361.4" font-family="Liberation Sans" font-weight="bold" stroke="#111" stroke-width="0.25" font-size="12" text-anchor="middle" fill="#111">700</text><line x1="18.4" y1="335.6" x2="18.4" y2="343.6" stroke="#222" stroke-width="1.3"/><text x="18.4" y="361.4" font-family="Liberation Sans" font-weight="bold" stroke="#111" stroke-width="0.25" font-size="12" text-anchor="middle" fill="#111">800</text><line x1="684" y1="2.5" x2="686.5" y2="2.5" stroke="#222" stroke-width="1.3"/><line x1="684" y1="58.7" x2="686.5" y2="58.7" stroke="#222" stroke-width="1.3"/><line x1="684" y1="114.9" x2="686.5" y2="114.9" stroke="#222" stroke-width="1.3"/><line x1="684" y1="171.1" x2="686.5" y2="171.1" stroke="#222" stroke-width="1.3"/><line x1="684" y1="227.3" x2="686.5" y2="227.3" stroke="#222" stroke-width="1.3"/><line x1="684" y1="283.5" x2="686.5" y2="283.5" stroke="#222" stroke-width="1.3"/><text x="290" y="378" font-family="Liberation Sans" font-weight="bold" stroke="#111" stroke-width="0.25" font-size="12" textLength="108.6" lengthAdjust="spacingAndGlyphs" fill="#111">Binding energy (eV)</text><text transform="translate(696.9,169) rotate(-90)" font-family="Liberation Sans" font-weight="bold" stroke="#111" stroke-width="0.25" font-size="11" text-anchor="middle" fill="#111">Intensity (a.u.)</text><text x="600.4" y="63.5" font-family="Liberation Sans" font-weight="bold" stroke="#111" stroke-width="0.25" font-size="11" textLength="28.8" lengthAdjust="spacingAndGlyphs" fill="#111">Au 4f</text><line x1="12.9" y1="126.6" x2="167.7" y2="126.6" stroke="#111" stroke-width="1.5"/><line x1="167.0" y1="60.6" x2="167.0" y2="126.6" stroke="#111" stroke-width="1.5"/><line x1="29.4" y1="126.6" x2="29.4" y2="129.6" stroke="#111" stroke-width="1.2"/><text x="29.4" y="143.4" font-family="Liberation Sans" font-weight="bold" stroke="#111" stroke-width="0.25" font-size="9.4" text-anchor="middle" fill="#111">690</text><line x1="63.8" y1="126.6" x2="63.8" y2="129.6" stroke="#111" stroke-width="1.2"/><text x="63.8" y="143.4" font-family="Liberation Sans" font-weight="bold" stroke="#111" stroke-width="0.25" font-size="9.4" text-anchor="middle" fill="#111">688</text><line x1="98.2" y1="126.6" x2="98.2" y2="129.6" stroke="#111" stroke-width="1.2"/><text x="98.2" y="143.4" font-family="Liberation Sans" font-weight="bold" stroke="#111" stroke-width="0.25" font-size="9.4" text-anchor="middle" fill="#111">686</text><line x1="132.6" y1="126.6" x2="132.6" y2="129.6" stroke="#111" stroke-width="1.2"/><text x="132.6" y="143.4" font-family="Liberation Sans" font-weight="bold" stroke="#111" stroke-width="0.25" font-size="9.4" text-anchor="middle" fill="#111">684</text><line x1="167.0" y1="126.6" x2="167.0" y2="129.6" stroke="#111" stroke-width="1.2"/><text x="167.0" y="143.4" font-family="Liberation Sans" font-weight="bold" stroke="#111" stroke-width="0.25" font-size="9.4" text-anchor="middle" fill="#111">682</text><line x1="164.5" y1="60.6" x2="169.5" y2="60.6" stroke="#111" stroke-width="1.2"/><line x1="164.5" y1="93.5" x2="169.5" y2="93.5" stroke="#111" stroke-width="1.2"/><text x="53.9" y="156.5" font-family="Liberation Sans" font-weight="bold" stroke="#111" stroke-width="0.25" font-size="8.6" textLength="72" lengthAdjust="spacingAndGlyphs" fill="#111">Binding energy (eV)</text><text transform="translate(179.8,125.2) rotate(-90)" font-family="Liberation Sans" font-weight="bold" stroke="#111" stroke-width="0.25" font-size="9" textLength="62.3" lengthAdjust="spacingAndGlyphs" fill="#111">Intensity (a.u.)</text><polyline points="27.3,86.3 28.2,86.5 29.1,86.3 30.1,86.1 31.0,85.8 31.9,86.1 32.8,85.9 33.7,85.6 35.5,86.0 36.5,85.3 37.4,84.7 38.3,81.9 39.2,79.8 40.1,77.7 41.6,78.3 42.9,81.6 43.8,82.2 44.7,82.9 46.5,81.6 47.8,83.4 49.2,81.0 50.7,78.3 52.5,81.0 53.6,80.6 54.7,80.1 55.7,79.2 56.6,78.3 58.4,80.1 59.3,79.7 60.2,79.0 61.1,79.0 62.0,79.4 63.0,79.6 63.9,79.4 65.2,80.1 66.6,80.1 67.5,81.0 68.4,81.9 69.3,80.8 70.3,79.5 71.2,79.0 72.1,78.4 73.0,78.3 74.8,77.7 75.7,77.9 76.7,78.3 77.6,78.3 78.5,79.7 79.4,81.0 81.2,79.7 82.2,78.1 83.1,76.6 84.3,78.0 85.5,80.1 87.3,78.3 89.1,73.1 90.0,73.1 91.0,72.7 91.9,73.1 93.1,72.8 94.3,72.8 95.5,73.2 96.5,73.9 97.4,74.8 98.8,75.1 100.1,76.4 101.0,75.3 102.0,74.5 102.9,73.6 104.2,74.1 105.6,74.4 106.5,73.7 107.4,73.7 108.3,72.6 109.2,72.9 110.2,72.3 111.1,72.7 112.0,72.5 112.9,72.2 113.8,72.1 114.7,72.3 115.7,72.7 116.6,72.5 117.5,72.2 118.4,71.8 119.3,70.8 120.2,71.1 121.2,70.8 122.1,70.3 123.0,70.0 123.9,69.7 124.8,69.4 125.7,69.1 127.5,70.9 128.4,70.0 129.4,69.3 130.3,68.8 131.7,68.8 133.0,68.2 133.9,69.4 134.8,70.9 135.7,69.2 136.7,67.8 137.6,66.4 138.5,66.9 139.4,66.8 140.3,67.3 141.2,66.5 142.2,65.9 143.1,66.9 144.0,68.1 144.9,69.1 146.7,66.9 148.3,67.7" fill="none" stroke="#f00" stroke-width="1.2" stroke-linejoin="round"/><polyline points="27.3,122.1 28.6,120.6 30.0,119.7 30.9,119.7 31.9,118.5 32.8,118.1 33.7,119.0 34.6,119.7 35.5,119.5 36.5,118.6 37.4,118.4 38.3,117.4 39.2,117.5 40.1,116.6 41.0,116.0 42.0,115.5 42.9,114.5 43.8,114.7 44.7,114.9 46.0,114.2 47.4,113.0 48.3,113.5 49.2,114.1 50.2,113.4 51.1,112.7 52.9,113.7 53.8,112.6 54.7,112.5 55.6,111.7 56.5,111.9 57.5,112.3 58.4,113.0 59.3,111.9 60.2,111.0 61.1,109.9 62.1,109.2 63.0,108.1 63.9,107.8 64.8,107.1 65.7,106.7 66.8,105.3 67.9,103.9 69.4,99.1 70.8,98.3 72.1,96.6 73.4,91.3 74.6,89.6 75.8,87.4 77.6,83.2 78.5,81.5 79.4,79.6 80.3,78.5 81.5,77.5 82.7,76.5 83.7,75.8 84.6,75.0 85.5,75.8 86.4,76.5 88.2,78.3 89.2,78.3 90.1,78.3 91.0,80.1 91.9,81.9 93.2,86.3 94.3,86.6 95.5,87.4 96.5,89.7 97.4,92.0 99.2,97.5 101.0,99.3 101.9,99.9 102.9,101.4 103.8,102.0 104.7,103.5 105.6,105.0 106.5,106.7 107.4,106.3 108.4,105.3 109.3,104.7 110.2,104.9 111.1,104.7 112.0,104.9 112.9,104.5 113.8,104.2 114.7,104.0 115.6,104.2 116.6,104.2 117.5,104.8 119.3,103.0 121.1,106.9 122.0,106.8 122.9,107.2 123.9,107.5 124.8,108.2 125.7,108.6 126.6,108.7 127.5,109.0 128.4,109.1 129.3,107.5 130.3,104.9 131.2,103.0 132.1,103.5 133.0,103.9 133.9,103.2 134.8,102.4 135.7,102.8 136.7,103.3 137.6,103.8 138.5,103.4 139.4,103.0 140.3,103.0 141.2,103.5 142.2,103.7 143.1,103.7 144.0,104.3 145.3,102.3 146.7,101.1 148.3,102.9" fill="none" stroke="#111" stroke-width="1.2" stroke-linejoin="round"/><text x="80" y="46.0" font-family="Liberation Sans" font-weight="bold" stroke="#111" stroke-width="0.5" font-size="16" textLength="27.5" lengthAdjust="spacingAndGlyphs" fill="#111">F 1s</text><line x1="216.0" y1="129.0" x2="370.7" y2="129.0" stroke="#111" stroke-width="1.5"/><line x1="370.0" y1="61.7" x2="370.0" y2="129.0" stroke="#111" stroke-width="1.5"/><line x1="229.1" y1="129.0" x2="229.1" y2="132.0" stroke="#111" stroke-width="1.2"/><text x="229.1" y="145.4" font-family="Liberation Sans" font-weight="bold" stroke="#111" stroke-width="0.25" font-size="9.4" text-anchor="middle" fill="#111">624</text><line x1="257.1" y1="129.0" x2="257.1" y2="132.0" stroke="#111" stroke-width="1.2"/><text x="257.1" y="145.4" font-family="Liberation Sans" font-weight="bold" stroke="#111" stroke-width="0.25" font-size="9.4" text-anchor="middle" fill="#111">622</text><line x1="285.2" y1="129.0" x2="285.2" y2="132.0" stroke="#111" stroke-width="1.2"/><text x="285.2" y="145.4" font-family="Liberation Sans" font-weight="bold" stroke="#111" stroke-width="0.25" font-size="9.4" text-anchor="middle" fill="#111">620</text><line x1="313.2" y1="129.0" x2="313.2" y2="132.0" stroke="#111" stroke-width="1.2"/><text x="313.2" y="145.4" font-family="Liberation Sans" font-weight="bold" stroke="#111" stroke-width="0.25" font-size="9.4" text-anchor="middle" fill="#111">618</text><line x1="341.3" y1="129.0" x2="341.3" y2="132.0" stroke="#111" stroke-width="1.2"/><text x="341.3" y="145.4" font-family="Liberation Sans" font-weight="bold" stroke="#111" stroke-width="0.25" font-size="9.4" text-anchor="middle" fill="#111">616</text><line x1="369.3" y1="129.0" x2="369.3" y2="132.0" stroke="#111" stroke-width="1.2"/><text x="369.3" y="145.4" font-family="Liberation Sans" font-weight="bold" stroke="#111" stroke-width="0.25" font-size="9.4" text-anchor="middle" fill="#111">614</text><line x1="367.5" y1="61.7" x2="372.5" y2="61.7" stroke="#111" stroke-width="1.2"/><line x1="367.5" y1="71.3" x2="372.5" y2="71.3" stroke="#111" stroke-width="1.2"/><line x1="367.5" y1="80.9" x2="372.5" y2="80.9" stroke="#111" stroke-width="1.2"/><line x1="367.5" y1="90.5" x2="372.5" y2="90.5" stroke="#111" stroke-width="1.2"/><line x1="367.5" y1="100.1" x2="372.5" y2="100.1" stroke="#111" stroke-width="1.2"/><line x1="367.5" y1="109.8" x2="372.5" y2="109.8" stroke="#111" stroke-width="1.2"/><line x1="367.5" y1="119.4" x2="372.5" y2="119.4" stroke="#111" stroke-width="1.2"/><text x="256.1" y="159.1" font-family="Liberation Sans" font-weight="bold" stroke="#111" stroke-width="0.25" font-size="8.6" textLength="72" lengthAdjust="spacingAndGlyphs" fill="#111">Binding energy (eV)</text><text transform="translate(382.0,126.2) rotate(-90)" font-family="Liberation Sans" font-weight="bold" stroke="#111" stroke-width="0.25" font-size="9" textLength="62.2" lengthAdjust="spacingAndGlyphs" fill="#111">Intensity (a.u.)</text><polyline points="227.2,103.8 228.3,104.2 229.4,104.6 230.5,104.4 231.7,104.5 232.9,104.0 234.1,103.8 235.0,103.8 235.9,104.0 236.9,104.4 237.8,104.5 239.0,104.9 240.2,104.8 241.4,105.0 242.3,105.6 243.2,105.6 244.2,105.8 245.1,106.2 246.3,105.2 247.5,104.2 248.7,104.0 249.6,104.1 250.6,104.4 251.5,104.6 252.4,105.0 253.6,104.2 254.8,104.1 256.0,103.4 256.9,103.6 257.9,103.8 258.8,103.6 259.7,103.5 260.6,103.6 261.5,103.6 262.5,103.3 263.4,103.1 264.3,103.9 265.2,104.7 266.1,103.2 267.0,101.6 267.9,102.0 268.9,102.0 269.8,102.3 270.7,102.8 271.6,103.0 272.5,102.5 273.4,102.4 274.3,102.3 275.2,102.2 276.1,102.2 277.0,102.6 278.0,102.9 278.9,102.7 279.8,102.8 281.0,102.3 282.2,101.9 283.4,101.8 284.3,102.1 285.2,102.4 286.2,102.7 287.1,103.7 288.0,103.3 289.0,103.0 289.9,102.2 290.8,102.0 291.7,102.0 292.6,101.5 293.5,101.4 294.4,100.6 295.3,100.8 296.2,100.8 297.2,101.7 298.1,102.1 299.2,102.6 300.2,102.5 301.2,102.7 302.3,102.6 303.2,102.5 304.1,102.0 305.1,102.1 306.0,101.8 306.9,101.2 307.8,101.4 308.7,100.7 309.6,100.5 311.4,99.3 312.4,99.9 313.3,100.3 314.5,100.1 315.7,100.3 316.9,100.0 317.8,100.7 318.8,101.0 319.7,100.7 320.6,100.8 321.8,100.8 323.0,100.3 324.2,100.2 325.1,100.5 326.0,100.2 327.0,100.4 327.9,100.8 328.8,101.0 329.7,101.4 330.6,102.3 331.5,101.5 332.5,100.8 333.4,99.9 334.4,98.3 335.5,96.9 336.4,99.5 337.4,102.1 338.5,100.9 339.7,99.4 340.6,99.1 341.6,99.2 342.5,99.2 343.9,99.9 345.2,100.2 346.1,99.6 347.1,99.2 348.0,98.4 348.9,97.7 349.8,96.6 351.0,97.4 352.2,97.5 353.4,98.0" fill="none" stroke="#f00" stroke-width="1.2" stroke-linejoin="round"/><polyline points="227.2,120.4 228.3,120.2 229.4,119.5 230.5,119.7 231.7,119.8 232.9,120.7 234.1,121.2 235.1,120.0 236.0,118.5 237.2,119.2 238.4,119.0 239.6,119.5 240.5,119.1 241.4,118.7 242.4,118.1 243.3,118.0 244.5,118.4 245.7,118.2 246.9,118.8 247.8,118.8 248.8,118.3 249.7,117.8 250.6,117.4 251.8,118.0 253.0,117.6 254.2,118.3 255.1,117.5 256.1,116.3 257.0,115.6 258.4,116.0 259.7,116.6 261.0,117.0 262.4,117.8 263.3,116.9 264.3,115.6 265.2,115.1 266.1,114.3 267.0,114.1 267.9,114.2 268.8,114.1 269.7,113.7 270.6,113.3 271.6,112.8 272.5,111.9 273.4,111.9 274.3,111.7 275.2,110.8 276.1,110.8 277.0,109.8 278.0,109.1 278.9,108.6 279.8,108.0 281.1,107.1 282.5,105.4 283.4,104.2 284.4,103.0 285.3,101.1 286.2,97.0 287.1,93.1 288.5,86.5 289.8,79.9 290.7,76.8 291.7,73.2 292.6,70.1 294.0,68.8 295.3,67.2 296.5,68.9 297.7,70.0 298.6,73.2 299.6,76.4 301.4,85.6 302.3,89.2 303.2,92.9 304.1,96.1 305.0,99.3 305.9,102.0 306.9,104.6 307.8,106.2 308.7,108.0 309.6,109.1 310.5,110.0 311.5,111.2 312.4,112.0 313.3,113.3 314.6,113.5 316.0,114.3 317.4,114.7 318.7,115.7 319.6,115.8 320.5,116.1 321.5,116.6 322.4,116.3 323.3,117.5 324.2,117.9 325.1,118.6 326.0,118.1 327.0,117.9 327.9,117.4 328.8,117.7 329.7,117.8 330.6,118.0 331.5,118.3 332.4,118.2 333.4,118.5 334.3,118.4 335.2,118.2 336.1,118.0 337.0,118.4 337.9,118.9 338.8,119.2 339.7,118.9 340.6,118.8 341.6,118.9 342.5,118.2 343.4,118.4 344.3,118.8 345.2,118.6 346.1,119.0 347.0,118.9 348.0,118.8 348.9,119.2 349.8,119.1 351.0,119.6 352.2,119.7 353.4,119.5" fill="none" stroke="#111" stroke-width="1.2" stroke-linejoin="round"/><text x="274.5" y="46.1" font-family="Liberation Sans" font-weight="bold" stroke="#111" stroke-width="0.5" font-size="16" textLength="25.5" lengthAdjust="spacingAndGlyphs" fill="#111">I 3d</text><text x="301.5" y="40.1" font-family="Liberation Sans" font-weight="bold" stroke="#111" stroke-width="0.5" font-size="10.5" textLength="16.5" lengthAdjust="spacingAndGlyphs" fill="#111">5/2</text><line x1="421.2" y1="128.8" x2="575.8" y2="128.8" stroke="#111" stroke-width="1.5"/><line x1="575.0999999999999" y1="64.0" x2="575.0999999999999" y2="128.8" stroke="#111" stroke-width="1.5"/><line x1="421.4" y1="128.8" x2="421.4" y2="131.8" stroke="#111" stroke-width="1.2"/><text x="421.4" y="145.6" font-family="Liberation Sans" font-weight="bold" stroke="#111" stroke-width="0.25" font-size="9.4" text-anchor="middle" fill="#111">292</text><line x1="447.1" y1="128.8" x2="447.1" y2="131.8" stroke="#111" stroke-width="1.2"/><text x="447.1" y="145.6" font-family="Liberation Sans" font-weight="bold" stroke="#111" stroke-width="0.25" font-size="9.4" text-anchor="middle" fill="#111">290</text><line x1="472.8" y1="128.8" x2="472.8" y2="131.8" stroke="#111" stroke-width="1.2"/><text x="472.8" y="145.6" font-family="Liberation Sans" font-weight="bold" stroke="#111" stroke-width="0.25" font-size="9.4" text-anchor="middle" fill="#111">288</text><line x1="498.6" y1="128.8" x2="498.6" y2="131.8" stroke="#111" stroke-width="1.2"/><text x="498.6" y="145.6" font-family="Liberation Sans" font-weight="bold" stroke="#111" stroke-width="0.25" font-size="9.4" text-anchor="middle" fill="#111">286</text><line x1="524.3" y1="128.8" x2="524.3" y2="131.8" stroke="#111" stroke-width="1.2"/><text x="524.3" y="145.6" font-family="Liberation Sans" font-weight="bold" stroke="#111" stroke-width="0.25" font-size="9.4" text-anchor="middle" fill="#111">284</text><line x1="550.0" y1="128.8" x2="550.0" y2="131.8" stroke="#111" stroke-width="1.2"/><text x="550.0" y="145.6" font-family="Liberation Sans" font-weight="bold" stroke="#111" stroke-width="0.25" font-size="9.4" text-anchor="middle" fill="#111">282</text><line x1="575.7" y1="128.8" x2="575.7" y2="131.8" stroke="#111" stroke-width="1.2"/><text x="575.7" y="145.6" font-family="Liberation Sans" font-weight="bold" stroke="#111" stroke-width="0.25" font-size="9.4" text-anchor="middle" fill="#111">280</text><line x1="572.5999999999999" y1="64.0" x2="577.5999999999999" y2="64.0" stroke="#111" stroke-width="1.2"/><line x1="572.5999999999999" y1="81.5" x2="577.5999999999999" y2="81.5" stroke="#111" stroke-width="1.2"/><line x1="572.5999999999999" y1="97.5" x2="577.5999999999999" y2="97.5" stroke="#111" stroke-width="1.2"/><line x1="572.5999999999999" y1="113.0" x2="577.5999999999999" y2="113.0" stroke="#111" stroke-width="1.2"/><text x="462.6" y="159.1" font-family="Liberation Sans" font-weight="bold" stroke="#111" stroke-width="0.25" font-size="8.6" textLength="72" lengthAdjust="spacingAndGlyphs" fill="#111">Binding energy (eV)</text><text transform="translate(586.6,126.2) rotate(-90)" font-family="Liberation Sans" font-weight="bold" stroke="#111" stroke-width="0.25" font-size="9" textLength="61.2" lengthAdjust="spacingAndGlyphs" fill="#111">Intensity (a.u.)</text><line x1="490.4" y1="70" x2="490.4" y2="114.8" stroke="#f00" stroke-width="1" stroke-dasharray="4,2.5"/><polyline points="432.3,103.5 433.3,103.6 434.4,104.0 435.4,103.8 436.5,103.9 437.5,104.1 438.6,103.9 439.6,104.2 440.6,104.2 441.7,104.2 442.7,103.6 443.8,103.7 444.8,103.4 445.9,103.8 446.9,103.6 447.9,103.1 449.0,103.7 450.0,103.7 451.1,103.4 452.1,103.3 453.2,102.9 454.2,102.8 455.2,103.1 456.3,102.7 457.3,102.8 458.4,102.8 459.4,102.6 460.5,102.9 461.5,102.9 462.5,103.1 463.6,102.8 464.6,102.8 465.7,102.6 466.7,102.7 467.8,102.4 468.8,102.2 469.8,102.7 470.9,102.6 471.9,102.5 473.0,102.3 474.0,102.0 475.1,101.9 476.1,101.9 477.1,101.6 478.2,102.0 479.2,101.6 480.3,101.8 481.3,101.4 482.4,101.7 483.4,101.5 484.5,100.8 485.5,100.8 486.6,101.2 487.7,100.7 488.7,101.0 489.8,100.4 490.9,99.9 492.1,100.0 493.2,99.8 494.4,99.1 495.6,98.6 496.8,98.3 498.0,98.3 499.2,97.8 500.2,96.7 501.3,96.1 502.3,95.3 503.4,94.6 504.4,94.1 505.4,92.6 506.5,91.8 507.5,90.7 508.6,88.8 509.6,87.4 510.7,85.2 511.7,82.8 512.8,79.7 513.8,77.1 514.8,73.9 515.9,70.8 516.9,68.1 518.0,66.4 519.0,64.5 520.0,65.9 521.1,66.5 522.2,69.2 523.2,72.1 524.2,75.1 525.3,77.9 526.3,81.6 527.4,83.9 528.4,86.7 529.5,89.9 530.5,91.7 531.6,93.8 532.6,95.7 533.6,96.6 534.7,97.9 535.8,98.6 536.8,99.8 537.8,100.0 538.9,100.4 540.0,101.1 541.0,101.2 542.0,101.5 543.0,102.0 544.1,101.7 545.1,102.0 546.1,102.8 547.2,103.0 548.2,102.8 549.3,103.1 550.3,103.7 551.4,104.1 552.5,103.8 553.5,104.6 554.5,104.6 555.6,104.4 556.7,104.2 557.7,104.0 558.9,104.1 560.2,104.9 561.4,104.7"fill="none" stroke="#f00" stroke-width="1.2" stroke-linejoin="round"/><polyline points="432.3,120.8 433.3,120.8 434.4,120.7 435.4,120.2 436.5,119.9 437.5,120.1 438.6,119.9 439.6,120.1 440.6,119.9 441.7,119.7 442.7,119.5 443.8,119.4 444.8,118.9 445.9,118.9 446.9,118.6 447.9,119.0 449.0,118.3 450.0,118.7 451.1,118.1 452.1,118.4 453.2,118.1 454.2,118.0 455.2,118.3 456.3,117.6 457.3,117.5 458.4,118.0 459.4,117.7 460.5,117.3 461.5,117.8 462.5,117.7 463.6,117.1 464.6,117.2 465.7,117.0 466.7,117.0 467.8,117.2 468.8,116.8 469.8,117.0 470.9,116.3 471.9,116.2 473.0,116.5 474.0,116.0 475.1,115.8 476.1,115.8 477.1,115.5 478.2,115.2 479.2,114.8 480.3,115.1 481.3,115.1 482.4,114.9 483.4,114.5 484.5,114.2 485.5,114.1 486.6,114.3 487.7,114.2 488.7,113.7 489.8,113.7 490.8,113.7 491.9,113.7 492.9,113.8 494.0,113.5 495.0,113.1 496.1,113.5 497.1,113.0 498.1,112.9 499.2,112.5 500.2,112.1 501.3,111.6 502.3,111.3 503.4,110.3 504.4,108.9 505.5,106.9 506.5,105.5 507.5,102.6 508.6,100.3 509.6,97.9 510.7,95.0 511.7,91.4 512.8,88.6 513.8,84.9 514.9,81.5 515.9,78.2 517.1,75.9 518.4,73.0 520.1,72.6 521.2,74.7 522.2,75.9 523.2,79.5 524.3,82.3 525.3,85.3 526.3,89.8 527.4,94.1 528.4,97.7 529.5,101.0 530.5,104.5 531.6,107.3 532.6,109.3 533.7,111.3 534.7,113.4 535.8,114.8 536.8,116.1 537.9,117.2 538.9,117.9 539.9,117.9 541.0,118.3 542.0,119.0 543.0,119.3 544.1,119.4 545.1,119.4 546.1,119.8 547.2,119.9 548.2,120.1 549.3,120.0 550.4,120.6 551.4,120.7 552.5,120.3 553.5,120.5 554.5,121.0 555.6,120.6 556.7,121.2 557.7,121.0 558.9,121.1 560.2,121.1 561.4,121.0"fill="none" stroke="#111" stroke-width="1.2" stroke-linejoin="round"/><text x="511.1" y="46.4" font-family="Liberation Sans" font-weight="bold" stroke="#111" stroke-width="0.5" font-size="16" textLength="28.2" lengthAdjust="spacingAndGlyphs" fill="#111">C 1s</text><text x="473.8" y="64.0" font-family="Liberation Sans" font-weight="bold" stroke="#111" stroke-width="0.25" font-size="12.2" textLength="32.4" lengthAdjust="spacingAndGlyphs" fill="#111">C[C<tspan font-size="8.5" dy="2.6">2</tspan><tspan dy="-2.6">F]</tspan></text></svg>
</body></html>
